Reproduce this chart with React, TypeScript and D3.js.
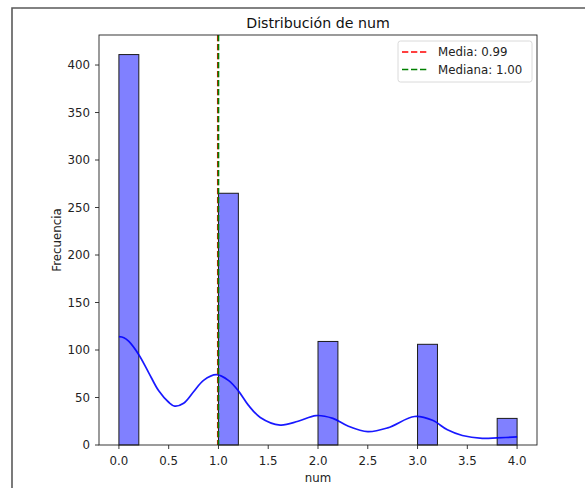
import React from "react";
import { scaleLinear, line, curveCatmullRom } from "d3";

// histogram bins (left edges) and counts, bin width 0.2
const binLefts = [0.0, 1.0, 2.0, 3.0, 3.8];
const binCounts = [411, 265, 109, 106, 28];
const binWidth = 0.2;

// kde curve (scaled to counts)
const kdeX = [0, 0.05, 0.1, 0.2, 0.3, 0.4, 0.5, 0.56, 0.65, 0.75, 0.85, 0.98, 1.1, 1.2, 1.3, 1.42, 1.62, 1.8, 1.98, 2.15, 2.3, 2.5, 2.7, 2.97, 3.15, 3.3, 3.45, 3.65, 3.8, 4.0];
const kdeY = [114, 113, 109, 95, 76, 57, 45, 41, 44, 56, 68, 74, 68, 57, 42, 29, 21, 25, 31, 28, 20, 14, 18, 30, 26, 16, 10, 7, 7.5, 8.5];

const meanValue = 0.9935;
const medianValue = 1.0;

const xTicks = [0, 0.5, 1.0, 1.5, 2.0, 2.5, 3.0, 3.5, 4.0];
const yTicks = [0, 50, 100, 150, 200, 250, 300, 350, 400];

export default function App() {
  const width = 585;
  const height = 488;
  const margin = { top: 35, right: 48, bottom: 43, left: 99 };
  const innerWidth = width - margin.left - margin.right;
  const innerHeight = height - margin.top - margin.bottom;
  const font = "DejaVu Sans, sans-serif";
  const fs = 11.8;
  const dash = "6.3,2.7";

  const xScale = scaleLinear().domain([-0.2, 4.2]).range([0, innerWidth]);
  const yScale = scaleLinear().domain([0, 431.6]).range([innerHeight, 0]);

  const kdeLine = line<number>()
    .x((d, i) => xScale(kdeX[i]))
    .y((d) => yScale(d))
    .curve(curveCatmullRom.alpha(0.5));

  return (
    <div style={{ position: "absolute", left: 0, top: 0 }}>
      <svg width={width} height={height} style={{ display: "block", background: "#fff" }} fontFamily={font}>
        {/* outer frame */}
        <path d={`M12,${height + 5} L12,8 L${width + 5},8`} fill="none" stroke="#5a5a5a" strokeWidth={1.6} />
        <text x={margin.left + innerWidth / 2} y={28} textAnchor="middle" fontSize={14.2} fill="#111">
          Distribución de num
        </text>
        <g transform={`translate(${margin.left},${margin.top})`}>
          {binLefts.map((b, i) => (
            <rect
              key={i}
              x={xScale(b)}
              y={yScale(binCounts[i])}
              width={xScale(b + binWidth) - xScale(b)}
              height={innerHeight - yScale(binCounts[i])}
              fill="#8080ff"
              stroke="#1a1a1a"
              strokeWidth={1}
            />
          ))}
          <path d={kdeLine(kdeY) || ""} fill="none" stroke="#0000ff" strokeWidth={1.7} opacity={0.9} />
          <line x1={xScale(meanValue)} x2={xScale(meanValue)} y1={0} y2={innerHeight} stroke="#ff0000" strokeWidth={1.7} strokeDasharray={dash} />
          <line x1={xScale(medianValue)} x2={xScale(medianValue)} y1={0} y2={innerHeight} stroke="#008000" strokeWidth={1.7} strokeDasharray={dash} />
          {/* spines */}
          <rect x={0} y={0} width={innerWidth} height={innerHeight} fill="none" stroke="#222" strokeWidth={0.9} />
          {xTicks.map((t, i) => (
            <g key={i} transform={`translate(${xScale(t)},${innerHeight})`}>
              <line y2={4} stroke="#222" strokeWidth={0.9} />
              <text y={19.5} textAnchor="middle" fontSize={fs} fill="#222">
                {t.toFixed(1)}
              </text>
            </g>
          ))}
          {yTicks.map((t, i) => (
            <g key={i} transform={`translate(0,${yScale(t)})`}>
              <line x2={-4} stroke="#222" strokeWidth={0.9} />
              <text x={-9} dy="0.35em" textAnchor="end" fontSize={fs} fill="#222">
                {t}
              </text>
            </g>
          ))}
          <text x={innerWidth / 2} y={innerHeight + 36.5} textAnchor="middle" fontSize={fs} fill="#222">
            num
          </text>
          <text transform={`translate(-38,${innerHeight / 2}) rotate(-90)`} textAnchor="middle" fontSize={fs} fill="#222">
            Frecuencia
          </text>
          {/* legend */}
          <g transform={`translate(${innerWidth - 139},6)`}>
            <rect x={0} y={0} width={134} height={41} rx={2.5} fill="#fff" fillOpacity={0.8} stroke="#d6d6d6" strokeWidth={0.9} />
            <line x1={4} x2={29} y1={11} y2={11} stroke="#ff0000" strokeWidth={1.7} strokeDasharray={dash} />
            <text x={40} y={11} dy="0.35em" fontSize={fs} fill="#222">Media: {meanValue.toFixed(2)}</text>
            <line x1={4} x2={29} y1={28.5} y2={28.5} stroke="#008000" strokeWidth={1.7} strokeDasharray={dash} />
            <text x={40} y={28.5} dy="0.35em" fontSize={fs} fill="#222">Mediana: {medianValue.toFixed(2)}</text>
          </g>
        </g>
      </svg>
    </div>
  );
}
